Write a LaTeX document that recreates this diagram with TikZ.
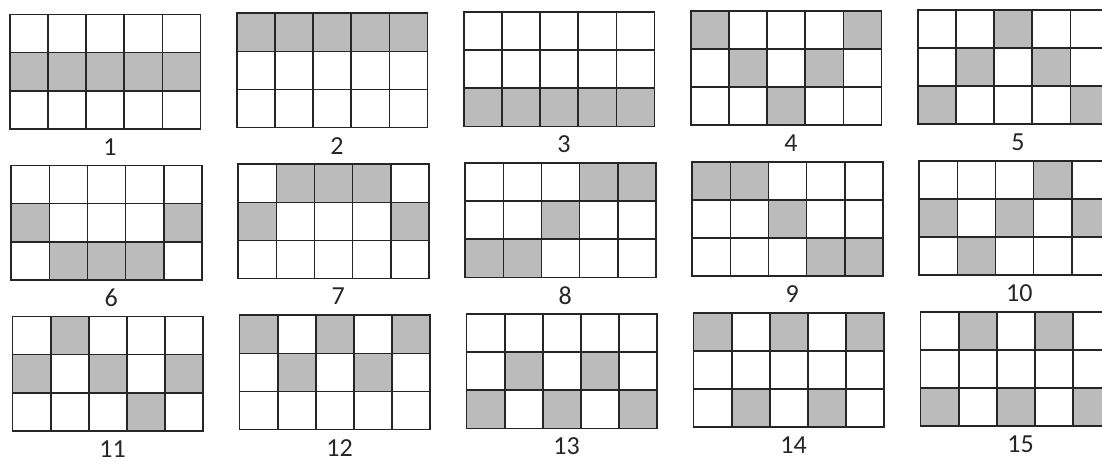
\documentclass[tikz,border=0pt]{standalone}
\usepackage{fontspec}
\setmainfont{Carlito}
\usepackage{tikz}
\definecolor{feld}{HTML}{BBBBBB}
\definecolor{linie}{HTML}{262626}

\tikzset{
  zelle/.style={fill=feld},
  raster/.style={draw=linie, line width=1.7pt},
  nummer/.style={font=\fontsize{26}{30}\selectfont, inner sep=0pt, text=linie}
}

\begin{document}
\begin{tikzpicture}[x=1pt, y=-1pt]
  % Rahmen
  \clip (0,0) rectangle (1102,462);
  \fill[white] (0,0) rectangle (1102,462);

  % Gewinnlinien: Nummer / Zeile je Walze
  \foreach \n/\za/\zb/\zc/\zd/\ze in {1/1/1/1/1/1, 2/0/0/0/0/0, 3/2/2/2/2/2,
      4/0/1/2/1/0, 5/2/1/0/1/2, 6/1/2/2/2/1, 7/1/0/0/0/1, 8/2/2/1/0/0,
      9/0/0/1/2/2, 10/1/2/1/0/1, 11/1/0/1/2/1, 12/0/1/0/1/0,
      13/2/1/2/1/2, 14/0/2/0/2/0, 15/2/0/2/0/2} {
    \pgfmathtruncatemacro{\spalte}{mod(\n-1,5)}
    \pgfmathtruncatemacro{\reihe}{(\n-1)/5}
    \pgfmathsetmacro{\xo}{10+227*\spalte+1.3*\reihe}
    \pgfmathsetmacro{\yo}{14.5-1.2*\spalte+151*\reihe}
    \begin{scope}[shift={(\xo,\yo)}]
      % Felder
      \foreach \k/\r in {0/\za,1/\zb,2/\zc,3/\zd,4/\ze}
        \fill[zelle] (\k*38.1,\r*38.1) rectangle ++(38.1,38.1);
      % Gitter
      \foreach \i in {1,...,4}
        \draw[raster] (\i*38.1,0) -- (\i*38.1,114.3);
      \foreach \j in {1,2}
        \draw[raster] (0,\j*38.1) -- (190.5,\j*38.1);
      \draw[raster] (0,0) rectangle (190.5,114.3);
      % Nummer
      \node[nummer] (nr\n) at (100,132.3) {\n};
    \end{scope}
  }
\end{tikzpicture}
\end{document}
